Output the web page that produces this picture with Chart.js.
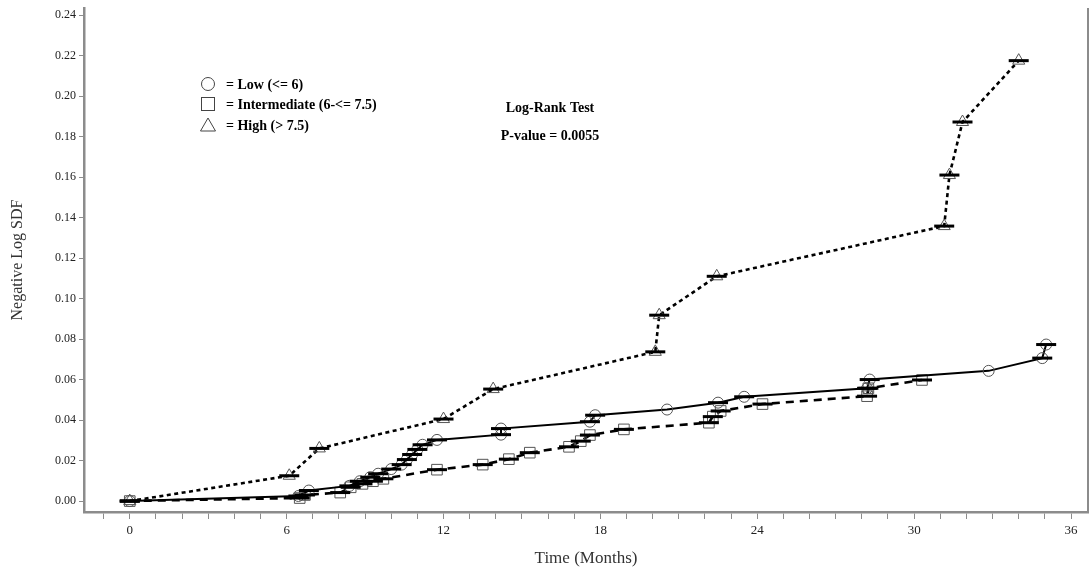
<!DOCTYPE html>
<html>
<head>
<meta charset="utf-8">
<script src="https://cdn.jsdelivr.net/npm/chart.js@4/dist/chart.umd.min.js"></script>
<style>
  html, body { margin: 0; padding: 0; background: #fff; }
  #wrap { width: 1091px; height: 569px; }
</style>
</head>
<body>
<div id="wrap"><canvas id="c" width="1091" height="569"></canvas></div>
<script>
// ---- data ----
var lowX = [0, 6.45, 6.85, 8.4, 8.8, 9.2, 9.5, 10.0, 10.4, 10.6, 10.8, 11.0, 11.2, 11.75, 14.2, 14.2, 17.6, 17.8, 20.55, 22.5, 23.5, 28.2, 28.3, 32.85, 34.9, 35.05];
var lowY = [0, 0.0025, 0.0052, 0.0075, 0.0098, 0.0118, 0.0135, 0.0158, 0.018, 0.0205, 0.023, 0.0255, 0.0278, 0.0302, 0.0328, 0.0358, 0.0392, 0.0424, 0.0452, 0.0486, 0.0515, 0.0557, 0.0600, 0.0643, 0.0706, 0.0773];
var lowPlain = [20.55, 32.85]; // points drawn without the bar

var interX = [0, 6.5, 6.7, 8.05, 8.45, 8.9, 9.3, 9.7, 11.75, 13.5, 14.5, 15.3, 16.8, 17.25, 17.6, 18.9, 22.15, 22.3, 22.6, 24.2, 28.2, 28.25, 30.3];
var interY = [0, 0.0015, 0.003, 0.0042, 0.0068, 0.0085, 0.0098, 0.011, 0.0155, 0.018, 0.0207, 0.0239, 0.0268, 0.0296, 0.0326, 0.0354, 0.0387, 0.0417, 0.0445, 0.0479, 0.0518, 0.0557, 0.0598];

var highX = [0, 6.1, 7.25, 12.0, 13.9, 20.1, 20.25, 22.45, 31.15, 31.35, 31.85, 34.0];
var highY = [0, 0.0125, 0.026, 0.0405, 0.0553, 0.0737, 0.0918, 0.111, 0.1358, 0.161, 0.1872, 0.2175];

var xTickLabels = [0, 6, 12, 18, 24, 30, 36];
var yTickLabels = [0, 0.02, 0.04, 0.06, 0.08, 0.10, 0.12, 0.14, 0.16, 0.18, 0.20, 0.22, 0.24];
var legendLabels = ["= Low (<= 6)", "= Intermediate (6-<= 7.5)", "= High (> 7.5)"];
var testTitle = "Log-Rank Test";
var testValue = "P-value = 0.0055";

function pts(xs, ys) {
    return xs.map(function (x, i) { return { x: x, y: ys[i] }; });
}

var SERIF = "'Liberation Serif', 'DejaVu Serif', serif";
var AXIS_GRAY = "#8c8c8c";

function markerSet(label, xs, ys, style, radius, dash) {
    return {
        label: label,
        data: pts(xs, ys),
        borderColor: "#000",
        borderWidth: dash ? 2.6 : 2,
        borderDash: dash || [],
        tension: 0,
        pointStyle: style,
        pointRadius: radius,
        pointBorderColor: "#555",
        pointBorderWidth: 1,
        pointBackgroundColor: "rgba(0,0,0,0)",
        order: 2
    };
}

function barSet(xs, ys, skip) {
    return {
        label: "bars",
        data: pts(xs, ys),
        showLine: false,
        pointStyle: "line",
        pointRadius: function (c) {
            var p = c.raw;
            return p && skip && skip.indexOf(p.x) >= 0 ? 0 : 10;
        },
        pointBorderColor: "#000",
        pointBorderWidth: 3,
        order: 1
    };
}

var overlay = {
    id: "overlay",
    afterDraw: function (chart) {
        var ctx = chart.ctx, a = chart.chartArea;
        ctx.save();
        // right frame
        ctx.strokeStyle = AXIS_GRAY;
        ctx.lineWidth = 2;
        ctx.beginPath();
        ctx.moveTo(a.right, a.top);
        ctx.lineTo(a.right, a.bottom);
        ctx.stroke();

        // legend block
        var lx = 208, ly = [84, 104, 125];
        ctx.strokeStyle = "#444";
        ctx.lineWidth = 1;
        ctx.beginPath();
        ctx.arc(lx, ly[0], 6.5, 0, Math.PI * 2);
        ctx.stroke();
        ctx.strokeRect(lx - 6.5, ly[1] - 6.5, 13, 13);
        ctx.beginPath();
        ctx.moveTo(lx, ly[2] - 7);
        ctx.lineTo(lx + 7.5, ly[2] + 6);
        ctx.lineTo(lx - 7.5, ly[2] + 6);
        ctx.closePath();
        ctx.stroke();

        ctx.fillStyle = "#000";
        ctx.font = "bold 14px " + SERIF;
        ctx.textAlign = "left";
        ctx.textBaseline = "middle";
        legendLabels.forEach(function (t, i) {
            ctx.fillText(t, 226, ly[i] + 1);
        });

        ctx.textAlign = "center";
        ctx.fillText(testTitle, 550, 108);
        ctx.fillText(testValue, 550, 136);
        ctx.restore();
    }
};

new Chart(document.getElementById("c").getContext("2d"), {
    type: "line",
    data: {
        datasets: [
            barSet(lowX, lowY, lowPlain),
            barSet(interX, interY),
            barSet(highX, highY),
            markerSet("Low", lowX, lowY, "circle", 5.5, null),
            markerSet("Intermediate", interX, interY, "rect", 7.5, [8, 6]),
            markerSet("High", highX, highY, "triangle", 7, [4, 3.5])
        ]
    },
    options: {
        responsive: false,
        animation: false,
        layout: { autoPadding: false, padding: { top: 8, right: 3, left: 0, bottom: 0 } },
        plugins: {
            legend: { display: false },
            tooltip: { enabled: false }
        },
        scales: {
            x: {
                type: "linear",
                min: -1.75,
                max: 36.65,
                afterBuildTicks: function (axis) {
                    var t = [];
                    for (var v = -1; v <= 36; v++) t.push({ value: v });
                    axis.ticks = t;
                },
                afterFit: function (axis) {
                    axis.height = 57;
                    axis.paddingLeft = 0;
                    axis.paddingRight = 0;
                },
                ticks: {
                    autoSkip: false,
                    maxRotation: 0,
                    padding: 4,
                    color: "#222",
                    font: { family: SERIF, size: 13 },
                    callback: function (v) { return xTickLabels.indexOf(v) >= 0 ? String(v) : ""; }
                },
                grid: { drawOnChartArea: false, drawTicks: true, tickLength: 7, color: AXIS_GRAY, lineWidth: 1 },
                border: { color: AXIS_GRAY, width: 2.5 },
                title: {
                    display: true,
                    text: "Time (Months)",
                    color: "#333",
                    font: { family: SERIF, size: 17 },
                    padding: { top: 0, bottom: 0 }
                }
            },
            y: {
                type: "linear",
                min: -0.0054,
                max: 0.2435,
                afterBuildTicks: function (axis) {
                    axis.ticks = yTickLabels.map(function (v) { return { value: v }; });
                },
                afterFit: function (axis) {
                    axis.width = 84;
                    axis.paddingTop = 0;
                    axis.paddingBottom = 0;
                },
                ticks: {
                    padding: 3,
                    color: "#222",
                    font: { family: SERIF, size: 12 },
                    callback: function (v) { return Number(v).toFixed(2); }
                },
                grid: { drawOnChartArea: false, drawTicks: true, tickLength: 5, color: AXIS_GRAY, lineWidth: 1 },
                border: { color: AXIS_GRAY, width: 2.5 },
                title: {
                    display: true,
                    text: "Negative Log SDF",
                    color: "#333",
                    font: { family: SERIF, size: 16 },
                    padding: { top: 8, bottom: 0 }
                }
            }
        }
    },
    plugins: [overlay]
});
</script>
</body>
</html>
